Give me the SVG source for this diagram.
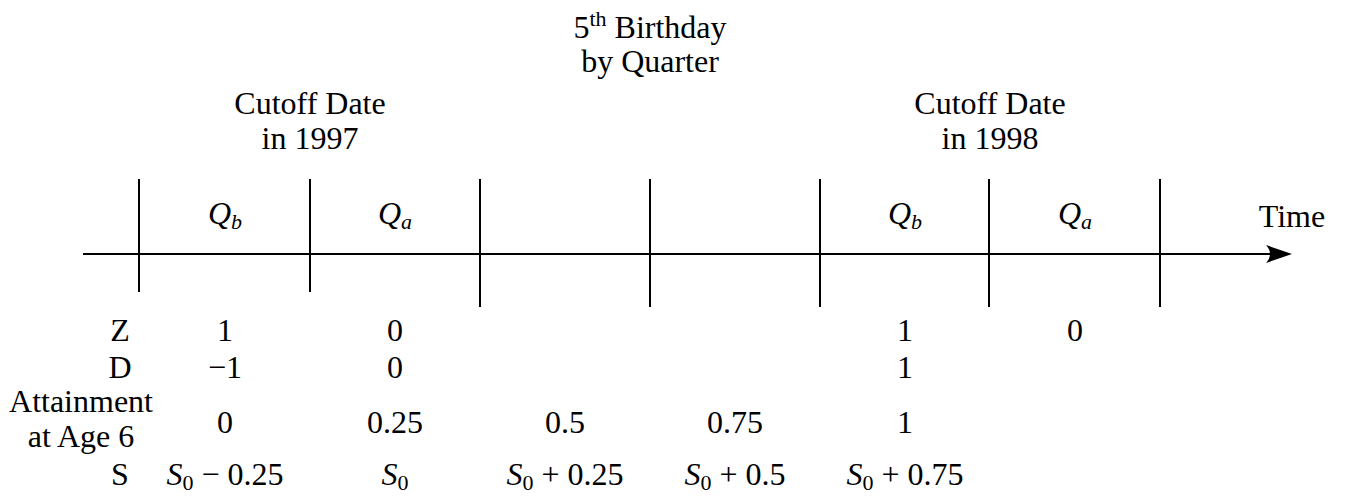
<svg xmlns="http://www.w3.org/2000/svg" width="1345" height="498" viewBox="0 0 1345 498">
<style>
text{font-family:"Liberation Serif","DejaVu Serif",serif;font-size:32px;fill:#000;text-anchor:middle}
.it{font-style:italic}
.sub{font-size:22px}
.tick{stroke:#000;stroke-width:2;fill:none}
.axis{stroke:#000;stroke-width:2;fill:none}
</style>
<rect width="1345" height="498" fill="#fff"/>
<g id="title">
<text x="650" y="38">5<tspan class="sub" dy="-12">th</tspan><tspan dy="12"> Birthday</tspan></text>
<text x="650" y="72">by Quarter</text>
</g>
<g id="cutoff1997">
<text x="310" y="114">Cutoff Date</text>
<text x="310" y="149">in 1997</text>
</g>
<g id="cutoff1998">
<text x="990" y="114">Cutoff Date</text>
<text x="990" y="149">in 1998</text>
</g>
<g id="connectors">
<line class="axis" x1="83" y1="254" x2="1275" y2="254"/>
<path d="M1292,254 L1266,245 Q1274,254 1266,263 Z" fill="#000"/>
<line class="tick" x1="139" y1="179" x2="139" y2="292"/>
<line class="tick" x1="310" y1="179" x2="310" y2="292"/>
<line class="tick" x1="480" y1="179" x2="480" y2="307"/>
<line class="tick" x1="650" y1="179" x2="650" y2="307"/>
<line class="tick" x1="820" y1="179" x2="820" y2="307"/>
<line class="tick" x1="989" y1="179" x2="989" y2="307"/>
<line class="tick" x1="1160" y1="179" x2="1160" y2="307"/>
</g>
<g id="quarters">
<text x="225" y="224"><tspan class="it">Q</tspan><tspan class="sub it" dy="5">b</tspan></text>
<text x="395" y="224"><tspan class="it">Q</tspan><tspan class="sub it" dy="5">a</tspan></text>
<text x="905" y="224"><tspan class="it">Q</tspan><tspan class="sub it" dy="5">b</tspan></text>
<text x="1075" y="224"><tspan class="it">Q</tspan><tspan class="sub it" dy="5">a</tspan></text>
<text x="1292" y="227">Time</text>
</g>
<g id="row-Z">
<text x="120" y="341">Z</text>
<text x="225" y="341">1</text>
<text x="395" y="341">0</text>
<text x="905" y="341">1</text>
<text x="1075" y="341">0</text>
</g>
<g id="row-D">
<text x="120" y="378">D</text>
<text x="225" y="378">−1</text>
<text x="395" y="378">0</text>
<text x="905" y="378">1</text>
</g>
<g id="row-attainment">
<text x="81" y="412">Attainment</text>
<text x="81" y="447">at Age 6</text>
<text x="225" y="433">0</text>
<text x="395" y="433">0.25</text>
<text x="565" y="433">0.5</text>
<text x="735" y="433">0.75</text>
<text x="905" y="433">1</text>
</g>
<g id="row-S">
<text x="120" y="485">S</text>
<text x="225" y="485"><tspan class="it">S</tspan><tspan class="sub" dy="5">0</tspan><tspan dy="-5"> − 0.25</tspan></text>
<text x="395" y="485"><tspan class="it">S</tspan><tspan class="sub" dy="5">0</tspan></text>
<text x="565" y="485"><tspan class="it">S</tspan><tspan class="sub" dy="5">0</tspan><tspan dy="-5"> + 0.25</tspan></text>
<text x="735" y="485"><tspan class="it">S</tspan><tspan class="sub" dy="5">0</tspan><tspan dy="-5"> + 0.5</tspan></text>
<text x="905" y="485"><tspan class="it">S</tspan><tspan class="sub" dy="5">0</tspan><tspan dy="-5"> + 0.75</tspan></text>
</g>
</svg>
